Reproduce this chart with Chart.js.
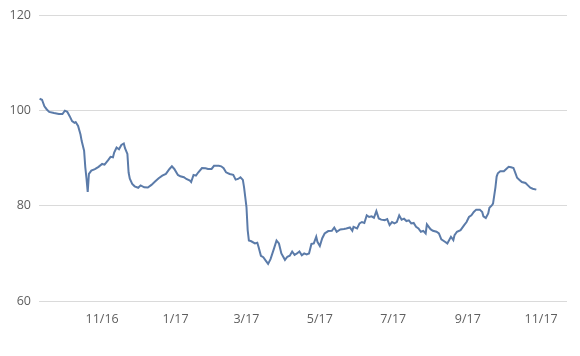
<!DOCTYPE html>
<html>
<head>
<meta charset="utf-8">
<script src="https://cdn.jsdelivr.net/npm/chart.js@4.4.1/dist/chart.umd.min.js"></script>
<style>
html,body{margin:0;padding:0;background:#fff;}
#wrap{width:580px;height:356px;position:relative;}
</style>
</head>
<body>
<div id="wrap"><canvas id="c" width="580" height="356"></canvas></div>
<script>
// Days since 2016-11-01
const days = [-52,-50,-48,-46,-44,-40,-36,-33,-31,-29,-27,-25,-23,-22,-20,-18,-17,-15,-14,-13,-12,-11,-9,-6,-3,0,2,5,7,9,10,12,14,16,18,19,21,22,23,25,27,30,32,35,38,41,44,47,50,53,56,58,60,63,65,68,70,73,74,76,78,80,83,86,88,91,93,97,99,101,103,106,109,111,113,115,117,118,120,121,122,124,127,129,130,132,134,136,138,140,143,145,147,149,152,154,156,158,160,162,164,166,168,170,172,174,176,178,179,181,183,185,188,191,193,195,198,201,203,206,208,209,212,214,216,218,220,222,224,226,228,230,232,235,237,239,241,243,245,247,249,251,253,255,257,259,261,263,265,267,269,270,273,275,278,280,282,285,287,290,292,293,295,298,301,303,305,307,309,311,314,316,317,319,321,322,324,325,327,328,329,331,334,336,338,340,342,344,345,347,349,352,354,356,358,361];
const values = [102.5,102.3,100.9,100.25,99.75,99.5,99.3,99.3,100.0,99.75,98.85,97.8,97.45,97.6,96.8,95.0,93.6,91.6,88.1,85.7,82.9,86.7,87.4,87.7,88.2,88.8,88.65,89.6,90.3,90.2,91.2,92.25,91.9,92.8,93.1,92.1,90.9,87.0,85.7,84.6,84.1,83.8,84.3,83.9,83.85,84.4,85.1,85.8,86.35,86.7,87.75,88.3,87.75,86.5,86.2,86.0,85.65,85.3,85.0,86.5,86.35,87.05,87.95,87.9,87.75,87.75,88.4,88.4,88.3,87.9,87.05,86.7,86.5,85.5,85.65,86.0,85.45,83.9,79.75,74.9,72.7,72.55,72.1,72.25,71.4,69.5,69.2,68.5,67.8,68.8,71.1,72.7,72.1,70.0,68.65,69.3,69.5,70.4,69.7,70.0,70.4,69.6,70.0,69.8,70.0,72.0,72.1,73.5,72.45,71.55,73.2,74.2,74.7,74.75,75.45,74.55,75.05,75.15,75.25,75.45,74.75,75.6,75.25,76.3,76.6,76.4,78.0,77.65,77.8,77.5,78.9,77.35,77.1,77.0,77.2,75.95,76.6,76.3,76.6,78.0,77.1,77.3,76.8,76.95,76.3,76.4,75.6,75.25,74.55,74.75,74.2,76.1,75.1,74.75,74.55,74.2,72.95,72.45,72.1,73.5,72.8,73.85,74.55,74.9,75.95,76.6,77.65,78.0,78.7,79.2,79.2,78.7,77.8,77.45,78.4,79.6,80.1,80.45,83.9,86.15,86.85,87.25,87.25,87.75,88.2,88.1,87.95,86.6,85.9,85.45,85.0,84.8,84.3,83.8,83.6,83.4];
const tickDays = [0,61,120,181,242,304,365];
const tickLabels = ['11/16','1/17','3/17','5/17','7/17','9/17','11/17'];
const yTicks = [60,80,100,120];

const points = days.map((d,i)=>({x:d,y:values[i]}));
const FONT = {family:'"Open Sans", sans-serif', size:12.5};

new Chart(document.getElementById('c'), {
  type:'line',
  data:{datasets:[{data:points,borderColor:'#5b7ba9',borderWidth:2,pointRadius:0,tension:0,fill:false}]},
  options:{
    responsive:false,animation:false,
    layout:{padding:{left:0,right:13,top:13,bottom:0}},
    plugins:{legend:{display:false},tooltip:{enabled:false}},
    scales:{
      x:{type:'linear',min:-52.5,max:386.5,
        grid:{display:false},border:{display:false},
        afterBuildTicks:s=>{s.ticks=tickDays.map(v=>({value:v}));},
        afterFit:s=>{s.height=55;},
        ticks:{autoSkip:false,maxRotation:0,padding:3,color:'#5e5e5e',font:FONT,
          callback:v=>{const i=tickDays.indexOf(v);return i>=0?tickLabels[i]:'';}}
      },
      y:{min:60,max:120,
        afterBuildTicks:s=>{s.ticks=yTicks.map(v=>({value:v}));},
        afterFit:s=>{s.width=39;},
        grid:{color:'#dadada',lineWidth:1,drawTicks:false},border:{display:false},
        ticks:{padding:8,color:'#5e5e5e',font:FONT}
      }
    }
  }
});
</script>
</body>
</html>
